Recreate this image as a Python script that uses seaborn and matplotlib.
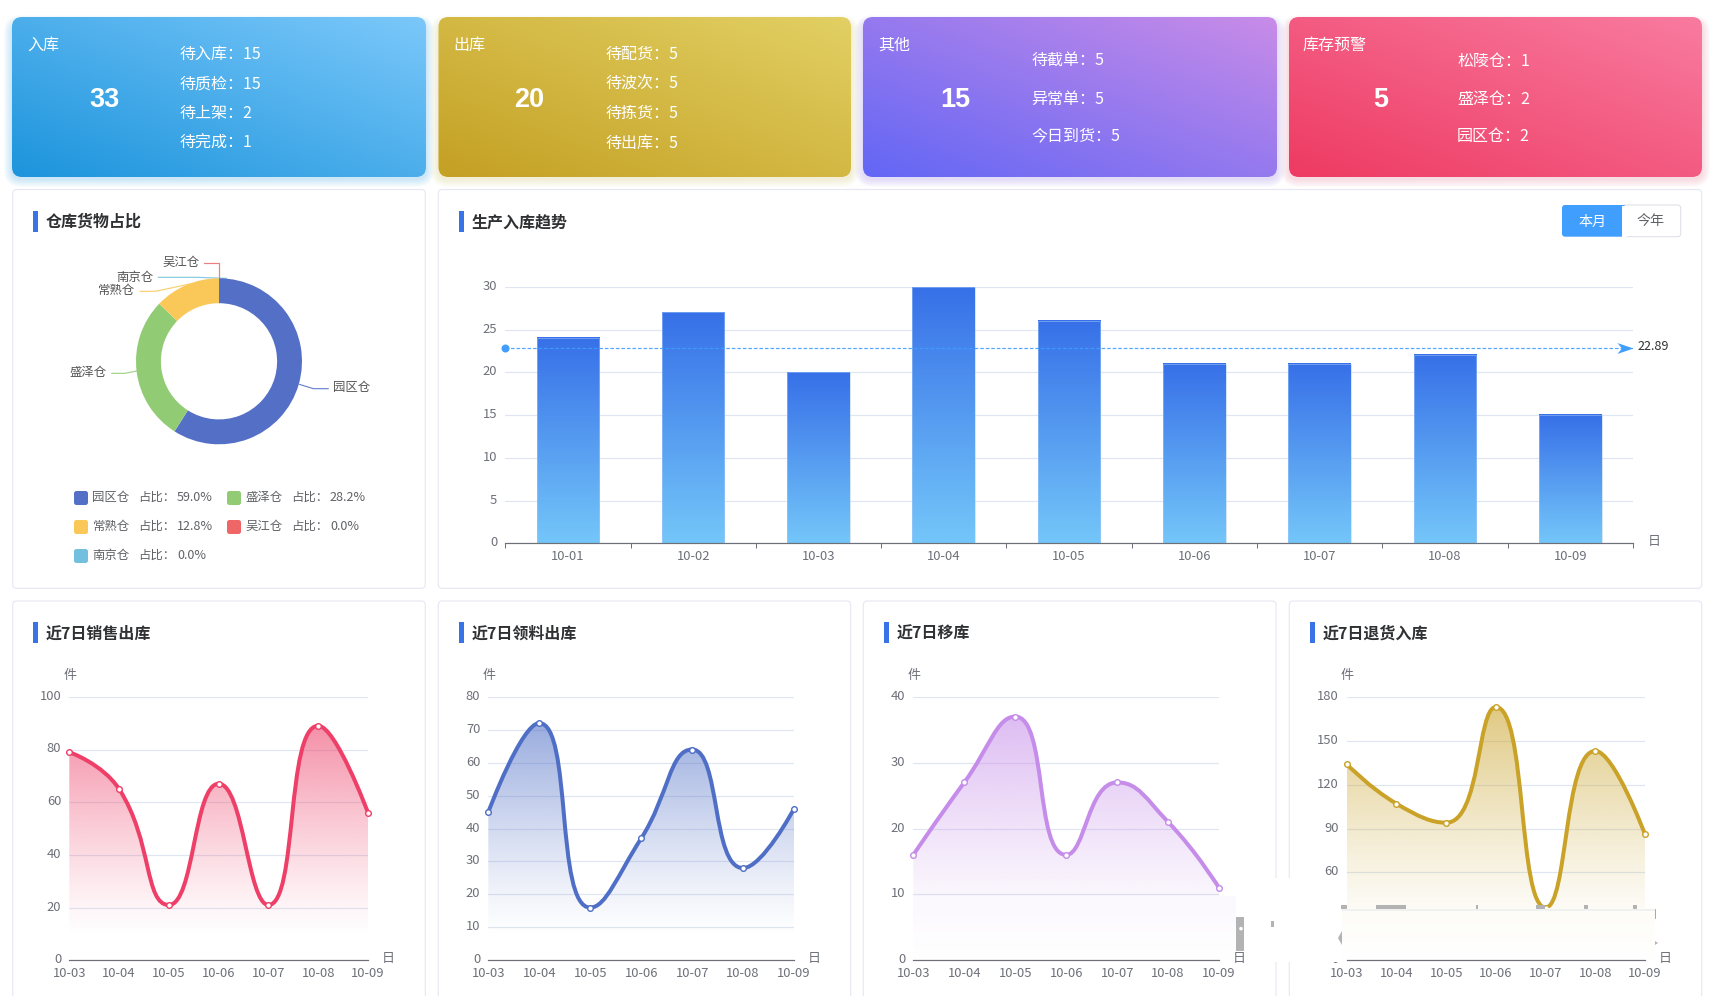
import matplotlib
matplotlib.use("Agg")
import matplotlib.pyplot as plt
import numpy as np
import seaborn as sns
from matplotlib.colors import to_rgb
from matplotlib.patches import FancyBboxPatch, PathPatch, Polygon, Rectangle, Circle
from matplotlib.path import Path
from matplotlib.transforms import ScaledTranslation

W, H = 1714, 996

# top cards
card_titles = ["入库", "出库", "其他", "库存预警"]
card_totals = [33, 20, 15, 5]
card_item_names = [
    ["待入库", "待质检", "待上架", "待完成"],
    ["待配货", "待波次", "待拣货", "待出库"],
    ["待截单", "异常单", "今日到货"],
    ["松陵仓", "盛泽仓", "园区仓"],
]
card_item_values = [[15, 15, 2, 1], [5, 5, 5, 5], [5, 5, 5], [1, 2, 2]]
card_low_colors = ["#1c94dc", "#c4a023", "#6266f5", "#ee3a62"]
card_high_colors = ["#7bc8fa", "#e2d064", "#c88ce8", "#f97ba0"]
card_shadow_colors = ["#58b4ee", "#dccb7a", "#a58cec", "#e58aa5"]

# donut
pie_labels = ["园区仓", "盛泽仓", "常熟仓", "吴江仓", "南京仓"]
pie_share = [59.0, 28.2, 12.8, 0.0, 0.0]
pie_colors = ["#5470c6", "#91cc75", "#fac858", "#ee6666", "#73c0de"]

# bars
bar_days = ["10-01", "10-02", "10-03", "10-04", "10-05", "10-06", "10-07", "10-08", "10-09"]
bar_counts = [24, 27, 20, 30, 26, 21, 21, 22, 15]
bar_mean = 22.89

# 7 day charts
week_days = ["10-03", "10-04", "10-05", "10-06", "10-07", "10-08", "10-09"]
line_titles = ["近7日销售出库", "近7日领料出库", "近7日移库", "近7日退货入库"]
sales_out = [79, 65, 21, 67, 21, 89, 56]
material_out = [45, 72, 16, 37, 64, 28, 46]
transfer = [16, 27, 37, 16, 27, 21, 11]
returns_in = [134, 107, 94, 173, 36, 143, 86]
line_colors = ["#ee3f68", "#4f6fc6", "#c58ce9", "#c9a227"]
line_ticks = [
    [0, 20, 40, 60, 80, 100],
    [0, 10, 20, 30, 40, 50, 60, 70, 80],
    [0, 10, 20, 30, 40],
    [0, 30, 60, 90, 120, 150, 180],
]

sns.set_style("white")
plt.rcParams["font.family"] = ["Noto Sans CJK SC", "DejaVu Sans"]

GRID = "#e0e6f1"
AXIS = "#6e7079"
PX = 72 / 100  # points per pixel


def fpx(n):
    return n * PX


def rounded(x0, y0, x1, y1, r, **kw):
    return FancyBboxPatch((x0 + r, y0 + r), x1 - x0 - 2 * r, y1 - y0 - 2 * r,
                          boxstyle=f"round,pad={r},rounding_size={r}", **kw)


def make_axes(x0, x1, ytop, ybottom):
    return fig.add_axes([x0 / W, 1 - ybottom / H, (x1 - x0) / W, (ybottom - ytop) / H])


def clamp(v, a, b):
    return max(min(v, max(a, b)), min(a, b))


# same control point rule the web chart library uses for smooth lines
def smooth_path(values, sx, sy, smooth=0.5):
    pts = [(i * sx, v * sy) for i, v in enumerate(values)]
    verts = [pts[0]]
    cp0 = pts[0]
    for i in range(1, len(pts)):
        x, y = pts[i]
        if i == len(pts) - 1:
            cp1 = (x, y)
            next_cp0 = (x, y)
        else:
            px_, py_ = pts[i - 1]
            nx, ny = pts[i + 1]
            vx, vy = nx - px_, ny - py_
            len_prev = np.hypot(x - px_, y - py_)
            len_next = np.hypot(nx - x, ny - y)
            ratio = len_next / (len_next + len_prev)
            ncx = clamp(x + vx * smooth * ratio, nx, x)
            ncy = clamp(y + vy * smooth * ratio, ny, y)
            vx, vy = ncx - x, ncy - y
            c1x = clamp(x - vx * len_prev / len_next, px_, x)
            c1y = clamp(y - vy * len_prev / len_next, py_, y)
            vx, vy = x - c1x, y - c1y
            ncx = x + vx * len_next / len_prev
            ncy = y + vy * len_next / len_prev
            cp1 = (c1x, c1y)
            next_cp0 = (ncx, ncy)
        verts += [cp0, cp1, (x, y)]
        cp0 = next_cp0
    return [(a / sx, b / sy) for a, b in verts]


def vertical_fade(ax, color, alpha_top, extent, clip):
    img = np.ones((256, 1, 4))
    img[..., :3] = to_rgb(color)
    t = np.clip((np.linspace(1, 0, 256) - 0.1) / 0.9, 0, 1)
    img[:, 0, 3] = alpha_top * t ** 1.2
    im = ax.imshow(img, extent=extent, aspect="auto", origin="upper", zorder=1.5, interpolation="bilinear")
    im.set_clip_path(clip)


def raise_ylabels(ax, px=2):
    shift = ScaledTranslation(0, px / 100, fig.dpi_scale_trans)
    for lbl in ax.get_yticklabels():
        lbl.set_transform(lbl.get_transform() + shift)


fig = plt.figure(figsize=(W / 100, H / 100), dpi=100, facecolor="white")
bg = fig.add_axes([0, 0, 1, 1], zorder=0)
bg.axis("off")

# ---- cards
card_x = [(12, 426), (438.5, 851), (863, 1277), (1289, 1702)]
card_title_x = [27.5, 453, 878, 1303]
card_total_x = [104, 529, 955, 1381]
card_item_x = [180, 606, 1031.5, 1457]
item_rows = {4: [54.5, 84.5, 113.5, 143.5], 3: [61.5, 99, 136]}
yy, xx = np.mgrid[0:1:100j, 0:1:200j]
for i, (x0, x1) in enumerate(card_x):
    for grow in range(1, 9):
        bg.add_patch(rounded(x0 - grow, 17 + 6 - grow, x1 + grow, 177 + 2 + grow, 10 + grow,
                             fc=card_shadow_colors[i], ec="none", alpha=0.04))
    t = ((xx + (1 - yy)) / 2)[..., None]
    img = np.array(to_rgb(card_low_colors[i])) * (1 - t) + np.array(to_rgb(card_high_colors[i])) * t
    box = rounded(x0, 17, x1, 177, 10, fc="none", ec="none")
    bg.add_patch(box)
    im = bg.imshow(img, extent=(x0, x1, 177, 17), aspect="auto", zorder=1.2)
    im.set_clip_path(box)
    bg.text(card_title_x[i], 45.5, card_titles[i], color="white", fontsize=fpx(16), va="center", zorder=3)
    bg.text(card_total_x[i], 100, str(card_totals[i]), color="white", fontsize=fpx(27), ha="center", va="center",
            family="Liberation Sans", weight="bold", zorder=3)
    rows = item_rows[len(card_item_names[i])]
    for name, val, y in zip(card_item_names[i], card_item_values[i], rows):
        bg.text(card_item_x[i], y, f"{name}：{val}", color="white", fontsize=fpx(16), va="center", zorder=3)

# ---- panels
panels = [
    (12.7, 425.3, 189.5, 588.3, "仓库货物占比", 33, 221),
    (438.3, 1701.7, 189.5, 588.3, "生产入库趋势", 459, 221.5),
]
bottom_panels = [(12.7, 425.3, 33), (438.3, 850.7, 459), (863.3, 1276, 884), (1289.3, 1701.7, 1310)]
for (x0, x1, bar_x), title in zip(bottom_panels, line_titles):
    panels.append((x0, x1, 601, 1010, title, bar_x, 632.5))
for x0, x1, y0, y1, title, bar_x, ty in panels:
    bg.add_patch(rounded(x0, y0, x1, y1, 4, fc="white", ec="#e8e8f4", lw=fpx(1.2), zorder=2))
    bg.add_patch(Rectangle((bar_x, ty - 10.5), 5, 21, fc="#3873e8", ec="none", zorder=3))
    bg.text(bar_x + 12.5, ty + 1, title, color="#303133", fontsize=fpx(16), weight="bold", va="center", zorder=3)

# ---- donut
ax_pie = make_axes(219 - 83, 219 + 83, 361.3 - 83, 361.3 + 83)
ax_pie.pie(pie_share, colors=pie_colors, startangle=90, counterclock=False, radius=1,
           wedgeprops={"width": 0.3, "edgecolor": "none"})
ax_pie.set_xlim(-1, 1)
ax_pie.set_ylim(-1, 1)
ax_pie.patch.set_alpha(0)

leaders = [
    [(985 / 3, 611 / 3 + 185), (940 / 3, 611 / 3 + 185), (898 / 3, 598 / 3 + 185)],
    [(335 / 3, 565 / 3 + 185), (375 / 3, 565 / 3 + 185), (410 / 3, 558 / 3 + 185)],
    [(420 / 3, 319 / 3 + 185), (465 / 3, 319 / 3 + 185), (570 / 3, 297 / 3 + 185)],
    [(612 / 3, 234 / 3 + 185), (657 / 3, 234 / 3 + 185), (657 / 3, 279 / 3 + 185)],
    [(475 / 3, 277 / 3 + 185), (590 / 3, 277 / 3 + 185), (680 / 3, 280 / 3 + 185)],
]
label_pos = [(332.7, 387.3, "left"), (106.5, 372.7, "right"), (135.5, 290.5, "right"), (199.5, 262, "right"),
             (153.5, 277.2, "right")]
for name, color, line, (lx, ly, ha) in zip(pie_labels, pie_colors, leaders, label_pos):
    bg.plot(*zip(*line), color=color, lw=fpx(1.2), zorder=3, alpha=0.85)
    bg.text(lx, ly, name, fontsize=fpx(12.4), color="#555555", ha=ha, va="center", zorder=3)

legend_pos = [(74, 498), (227, 498), (74, 527), (227, 527), (74, 556)]
for name, share, color, (lx, ly) in zip(pie_labels, pie_share, pie_colors, legend_pos):
    bg.add_patch(rounded(lx, ly - 7, lx + 14, ly + 7, 2.5, fc=color, ec="none", zorder=3))
    bg.text(lx + 18.5, ly - 1, name, fontsize=fpx(12.4), color="#606266", va="center", zorder=3)
    bg.text(lx + 64, ly - 1, "占比：", fontsize=fpx(12.4), color="#606266", va="center", zorder=3)
    bg.text(lx + 103, ly - 1, f"{share:.1f}%", fontsize=fpx(12.6), color="#606266", va="center", zorder=3)

# ---- buttons
bg.add_patch(rounded(1622, 205, 1680.7, 236.7, 3, fc="white", ec="#dcdfe6", lw=fpx(1), zorder=3))
bg.add_patch(rounded(1562, 205, 1626, 236.7, 3, fc="#409eff", ec="none", zorder=3))
bg.add_patch(Rectangle((1622, 205.5), 5, 31, fc="white", ec="none", zorder=3))
bg.text(1592, 221.5, "本月", color="white", fontsize=fpx(14), ha="center", va="center", zorder=4)
bg.text(1651, 221.5, "今年", color="#606266", fontsize=fpx(14), ha="center", va="center", zorder=4)

bg.set_xlim(0, W)
bg.set_ylim(H, 0)

# ---- bar chart
ax_bar = make_axes(505.2, 1633, 286.8, 543.3)
ax_bar.patch.set_alpha(0)
sns.barplot(x=bar_days, y=bar_counts, width=0.5, color="#3873e8", saturation=1, ax=ax_bar)
for bar in ax_bar.patches:
    x, w, h = bar.get_x(), bar.get_width(), bar.get_height()
    bar.set_facecolor("none")
    bar.set_edgecolor((0.66, 0.80, 0.98, 0.55))
    bar.set_linewidth(fpx(0.9))
    bar.set_zorder(3)
    img = np.ones((256, 1, 3))
    img[:, 0, :] = np.linspace(to_rgb("#3770e8"), to_rgb("#74c6f9"), 256)
    ax_bar.imshow(img, extent=(x, x + w, 0, h), aspect="auto", origin="upper", zorder=2)
ax_bar.set_xlim(-0.5, 8.5)
ax_bar.set_ylim(0, 30)
ax_bar.set_yticks(range(0, 31, 5))
ax_bar.grid(axis="y", color=GRID, lw=fpx(1.2))
ax_bar.set_axisbelow(True)
ax_bar.set_xticks(np.arange(-0.5, 9, 1), minor=True)
ax_bar.tick_params(axis="x", which="minor", length=5 * PX, width=fpx(1), color=AXIS, bottom=True)
ax_bar.tick_params(axis="x", which="major", length=0, pad=fpx(6.5), labelsize=fpx(13), labelcolor=AXIS, bottom=False)
ax_bar.tick_params(axis="y", length=0, pad=fpx(8), labelsize=fpx(13), labelcolor=AXIS)
sns.despine(ax=ax_bar, left=True)
ax_bar.spines["bottom"].set_color(AXIS)
ax_bar.spines["bottom"].set_linewidth(fpx(1.2))
ax_bar.set_xlabel("")
raise_ylabels(ax_bar)

ax_bar.axhline(bar_mean, color="#409eff", lw=fpx(1.2), ls=(0, (3, 1.6)), zorder=4, alpha=0.9)
ax_bar.scatter([-0.5], [bar_mean], s=(8 * PX) ** 2, color="#409eff", clip_on=False, zorder=5, linewidths=0)
arrow = Path([(1, 0), (-1, 0.68), (-0.45, 0), (-1, -0.68), (1, 0)], closed=True)
ax_bar.scatter([8.5 - 8 / 125.3], [bar_mean], s=(16 * PX) ** 2, marker=arrow, color="#409eff", clip_on=False,
               zorder=5, linewidths=0)
bg.text(1638, 346.5, f"{bar_mean:.2f}", fontsize=fpx(12.6), color="#303133", va="center", zorder=3)
bg.text(1654, 541.3, "日", fontsize=fpx(13), color=AXIS, ha="center", va="center", zorder=3)

# ---- line charts
line_x = [(69.3, 368), (488.3, 794), (913.3, 1219), (1346.7, 1645)]
series = [sales_out, material_out, transfer, returns_in]
ytop, ybot = 696.8, 960.3
for (x0, x1), values, color, ticks in zip(line_x, series, line_colors, line_ticks):
    ax = make_axes(x0, x1, ytop, ybot)
    ax.patch.set_alpha(0)
    ymax = ticks[-1]
    days = np.arange(len(week_days))
    verts = smooth_path(values, (x1 - x0) / 6, (ybot - ytop) / ymax)
    codes = [Path.MOVETO] + [Path.CURVE4] * (len(verts) - 1)
    area = Path(verts + [(6, 0), (0, 0), verts[0]], codes + [Path.LINETO, Path.LINETO, Path.CLOSEPOLY])
    clip = PathPatch(area, fc="none", ec="none", transform=ax.transData)
    ax.add_patch(clip)
    vertical_fade(ax, color, 0.58, (0, 6, 0, max(values)), clip)
    ax.add_patch(PathPatch(Path(verts, codes), fc="none", ec=color, lw=fpx(4), zorder=3, clip_on=False,
                           capstyle="round"))
    sns.scatterplot(x=days, y=values, s=(4.6 * PX) ** 2 * 1.5, color="white", edgecolor=color, linewidth=fpx(1.4),
                    zorder=4, clip_on=False, ax=ax)
    ax.set_xlim(0, 6)
    ax.set_ylim(0, ymax)
    ax.set_yticks(ticks)
    ax.set_xticks(days, week_days)
    ax.grid(axis="y", color=GRID, lw=fpx(1.2))
    ax.set_axisbelow(True)
    ax.tick_params(axis="x", length=0, pad=fpx(6.5), labelsize=fpx(13), labelcolor=AXIS)
    ax.tick_params(axis="y", length=0, pad=fpx(8), labelsize=fpx(13), labelcolor=AXIS)
    sns.despine(ax=ax, left=True)
    ax.spines["bottom"].set_color(AXIS)
    ax.spines["bottom"].set_linewidth(fpx(1.2))
    raise_ylabels(ax)

# ---- erased patches sitting over the lower right of the screenshot
top = fig.add_axes([0, 0, 1, 1], zorder=10)
top.axis("off")
top.patch.set_alpha(0)


def wash(x0, x1, y0, y1, tint):
    img = np.ones((64, 1, 3))
    img[:, 0, :] = np.linspace(to_rgb(tint), (1, 1, 1), 64)
    top.imshow(img, extent=(x0, x1, y1, y0), aspect="auto", zorder=1)


wash(913.5, 1236, 897, 959.2, "#fbf8fe")
top.add_patch(Rectangle((1244, 878), 98, 84, fc="white", ec="none", zorder=1))
top.add_patch(Rectangle((1236, 917), 8, 34, fc="#b3b3b3", ec="none", zorder=2))
top.add_patch(Circle((1241, 928.6), 1.8, fc="white", ec="none", zorder=3))
top.add_patch(Rectangle((1271.5, 921), 2.5, 6, fc="#b3b3b3", ec="none", zorder=2))
top.add_patch(Polygon([(1342, 931), (1338, 938), (1342, 945)], fc="#b3b3b3", ec="none", zorder=2))
for gx0, gx1 in [(1341, 1347), (1376, 1406), (1476, 1478), (1536, 1545), (1584, 1588), (1633, 1637)]:
    top.add_patch(Rectangle((gx0, 905), gx1 - gx0, 3.5, fc="#b3b3b3", ec="none", zorder=2))
wash(1342, 1655, 908.5, 959.2, "#fdfcf6")
top.plot([1342, 1655], [910, 910], color="#eceef0", lw=fpx(1.5), zorder=3)
top.plot([1655.5, 1655.5], [909, 918], color="#a8a8a8", lw=fpx(1), zorder=3)
top.add_patch(Polygon([(1655, 941), (1658, 943), (1655, 945)], fc="#b3b3b3", ec="none", zorder=2))

# units go on top so that the patches do not hide them
for x0, x1 in line_x:
    top.text(x0 + 0.5, 675, "件", fontsize=fpx(13), color=AXIS, ha="center", va="center", zorder=5)
    top.text(x1 + 20.5, 958.3, "日", fontsize=fpx(13), color=AXIS, ha="center", va="center", zorder=5)

top.set_xlim(0, W)
top.set_ylim(H, 0)

fig.savefig("out.png", dpi=100)
